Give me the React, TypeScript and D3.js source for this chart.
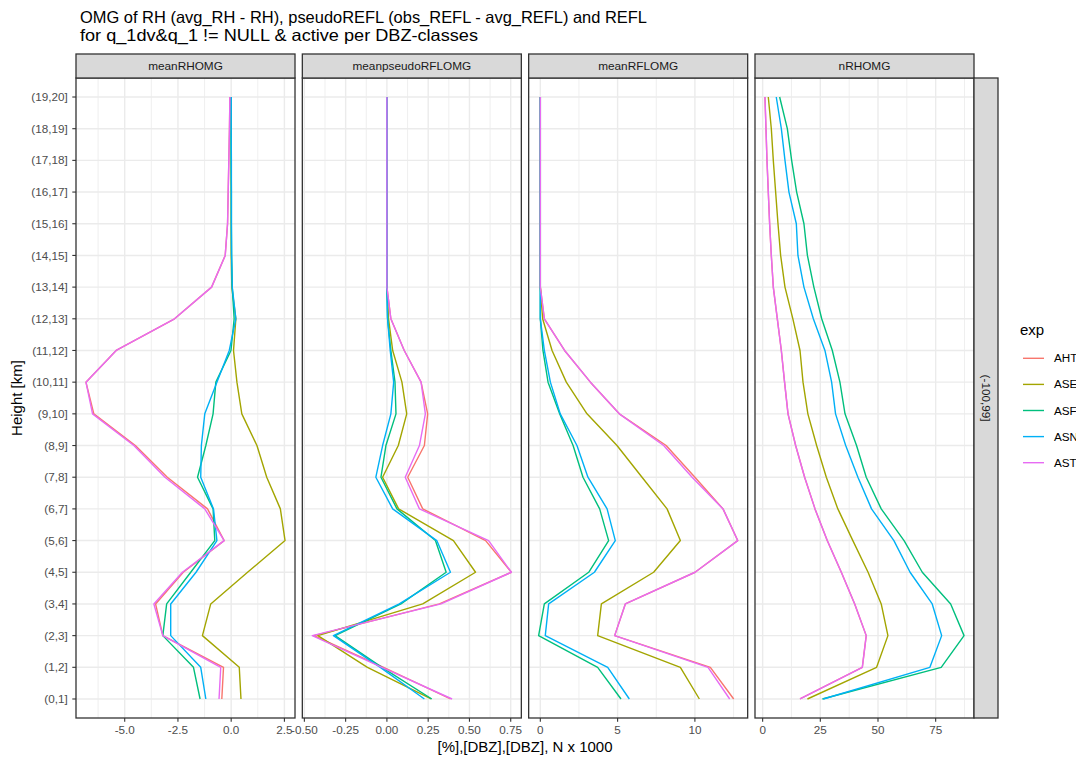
import React from "react";
import * as d3 from "d3";

// ---------------- DATA ----------------
const categories = [
  "(0,1]", "(1,2]", "(2,3]", "(3,4]", "(4,5]", "(5,6]", "(6,7]", "(7,8]", "(8,9]", "(9,10]",
  "(10,11]", "(11,12]", "(12,13]", "(13,14]", "(14,15]", "(15,16]", "(16,17]", "(17,18]", "(18,19]", "(19,20]",
];
const experiments = ["AHT", "ASE", "ASF", "ASN", "AST"];
const expColors = ["#F8766D", "#A3A500", "#00BF7D", "#00B0F6", "#E76BF3"];
const facetNames = ["meanRHOMG", "meanpseudoRFLOMG", "meanRFLOMG", "nRHOMG"];
const rowStripLabel = "(-100,99]";

// meanRHOMG
const rhAHT = [-0.44, -0.36, -3.21, -3.55, -2.25, -0.33, -1.11, -3.0, -4.5, -6.45, -6.82, -5.4, -2.66, -0.92, -0.28, -0.17, -0.14, -0.11, -0.08, -0.06];
const rhASE = [0.46, 0.38, -1.35, -0.96, 0.77, 2.53, 2.31, 1.67, 1.21, 0.5, 0.27, 0.11, 0.22, 0.03, 0.0, 0.0, 0.0, 0.0, 0.0, 0.0];
const rhASF = [-1.46, -1.77, -3.21, -3.03, -1.9, -0.77, -0.85, -1.58, -1.19, -0.85, -0.72, -0.01, 0.14, 0.05, 0.02, 0.01, 0.01, 0.0, 0.0, 0.0];
const rhASN = [-1.19, -1.43, -2.84, -2.84, -1.65, -0.67, -0.83, -1.43, -1.4, -1.24, -0.67, -0.09, 0.22, 0.05, 0.02, 0.01, 0.01, 0.01, 0.0, 0.0];
const rhAST = [-0.57, -0.49, -3.21, -3.63, -2.29, -0.33, -1.24, -3.11, -4.57, -6.51, -6.82, -5.4, -2.66, -0.92, -0.28, -0.17, -0.14, -0.11, -0.08, -0.06];

// meanpseudoRFLOMG
const psAHT = [0.385, -0.02, -0.442, 0.318, 0.754, 0.598, 0.217, 0.126, 0.227, 0.247, 0.207, 0.105, 0.024, 0, 0, 0, 0, 0, 0, 0];
const psASE = [0.268, -0.118, -0.418, 0.217, 0.537, 0.403, 0.071, -0.026, 0.069, 0.12, 0.091, 0.035, 0.01, 0, 0, 0, 0, 0, 0, 0];
const psASF = [0.272, -0.03, -0.314, 0.085, 0.359, 0.294, 0.061, -0.036, -0.006, 0.055, 0.049, 0.024, 0.004, 0, 0, 0, 0, 0, 0, 0];
const psASN = [0.227, -0.04, -0.324, 0.075, 0.385, 0.302, 0.035, -0.067, -0.026, 0.024, 0.041, 0.02, 0.004, 0, 0, 0, 0, 0, 0, 0];
const psAST = [0.395, -0.03, -0.452, 0.328, 0.754, 0.616, 0.197, 0.111, 0.197, 0.233, 0.207, 0.105, 0.024, 0, 0, 0, 0, 0, 0, 0];

// meanRFLOMG
const rfAHT = [12.51, 11.0, 4.81, 5.5, 10.01, 12.77, 11.82, 10.0, 8.14, 5.11, 3.24, 1.57, 0.26, 0, 0, 0, 0, 0, 0, 0];
const rfASE = [10.29, 9.06, 3.71, 3.95, 7.33, 9.06, 8.2, 6.58, 4.96, 3.02, 1.68, 0.76, 0.15, 0, 0, 0, 0, 0, 0, 0];
const rfASF = [5.22, 3.71, -0.11, 0.26, 3.13, 4.42, 3.84, 2.76, 2.12, 1.25, 0.5, 0.17, 0.0, 0, 0, 0, 0, 0, 0, 0];
const rfASN = [5.76, 4.36, 0.32, 0.54, 3.5, 4.85, 4.32, 3.08, 2.37, 1.29, 0.65, 0.26, 0.0, 0, 0, 0, 0, 0, 0, 0];
const rfAST = [12.25, 10.85, 4.81, 5.5, 10.01, 12.77, 11.82, 9.82, 7.98, 5.11, 3.24, 1.57, 0.26, 0, 0, 0, 0, 0, 0, 0];

// nRHOMG
const nAHT = [16.2, 43.2, 44.9, 39.9, 34.1, 28.0, 22.7, 18.2, 14.3, 11.0, 9.5, 8.1, 6.36, 4.62, 3.76, 3.03, 2.45, 1.88, 1.45, 1.0];
const nASE = [19.4, 49.4, 54.3, 51.4, 45.7, 39.1, 32.6, 27.6, 23.4, 19.6, 17.5, 16.2, 13.1, 9.68, 7.8, 6.65, 5.63, 4.62, 3.76, 2.45];
const nASF = [25.9, 77.4, 87.3, 81.5, 69.2, 61.3, 51.4, 44.9, 40.7, 35.7, 33.5, 30.2, 25.6, 22.2, 19.4, 17.9, 14.74, 12.57, 10.7, 7.37];
const nASN = [26.3, 72.5, 77.6, 73.5, 63.9, 56.9, 47.2, 41.3, 36.0, 31.6, 29.9, 27.0, 21.97, 17.9, 15.3, 14.6, 11.4, 9.68, 8.1, 5.9];
const nAST = [16.2, 43.2, 44.9, 39.9, 34.1, 28.0, 22.7, 18.2, 14.3, 11.0, 9.5, 8.1, 6.36, 4.62, 3.76, 3.03, 2.45, 1.88, 1.45, 1.0];

// x tick breaks and labels per facet
const rhTicks = [-5, -2.5, 0, 2.5];
const rhTickLabels = ["-5.0", "-2.5", "0.0", "2.5"];
const psTicks = [-0.5, -0.25, 0, 0.25, 0.5, 0.75];
const psTickLabels = ["-0.50", "-0.25", "0.00", "0.25", "0.50", "0.75"];
const rfTicks = [0, 5, 10];
const rfTickLabels = ["0", "5", "10"];
const nTicks = [0, 25, 50, 75];
const nTickLabels = ["0", "25", "50", "75"];

const titleLines = [
  "OMG of RH (avg_RH - RH), pseudoREFL (obs_REFL - avg_REFL) and REFL",
  "for q_1dv&q_1 != NULL & active per DBZ-classes",
];
const xAxisTitle = "[%],[DBZ],[DBZ], N x 1000";
const yAxisTitle = "Height [km]";
const legendTitle = "exp";

const facets = [
  { name: facetNames[0], series: [rhAHT, rhASE, rhASF, rhASN, rhAST], ticks: rhTicks, labels: rhTickLabels },
  { name: facetNames[1], series: [psAHT, psASE, psASF, psASN, psAST], ticks: psTicks, labels: psTickLabels },
  { name: facetNames[2], series: [rfAHT, rfASE, rfASF, rfASN, rfAST], ticks: rfTicks, labels: rfTickLabels },
  { name: facetNames[3], series: [nAHT, nASE, nASF, nASN, nAST], ticks: nTicks, labels: nTickLabels },
];

// ---------------- LAYOUT / STYLE ----------------
const W = 1076;
const H = 758;
const FONT = "'Liberation Sans', Arial, Helvetica, sans-serif";
const panelTop = 78;
const panelBottom = 718;
const stripH = 24;
const plotLeft = 76;
const plotRight = 974;
const gap = 7.33;
const panelW = (plotRight - plotLeft - 3 * gap) / 4;
const titleStyle = [
  { y: 23, len: 567 },
  { y: 41, len: 398 },
];

export default function App() {
  const y = d3.scalePoint<string>().domain(categories).range([panelBottom, panelTop]).padding(0.6);

  return (
    <svg
      width={W}
      height={H}
      style={{ position: "absolute", left: 0, top: 0, display: "block", background: "#fff" }}
      fontFamily={FONT}
    >
      <rect x={0} y={0} width={W} height={H} fill="#fff" />
      {/* title */}
      {titleLines.map((t, i) => (
        <text
          key={i}
          x={80}
          y={titleStyle[i].y}
          fontSize={16.5}
          fill="#000"
          textLength={titleStyle[i].len}
          lengthAdjust="spacingAndGlyphs"
        >
          {t}
        </text>
      ))}

      {facets.map((f, fi) => {
        const left = plotLeft + fi * (panelW + gap);
        const right = left + panelW;
        const all = f.series.flat();
        const mn = d3.min(all) as number;
        const mx = d3.max(all) as number;
        const r = mx - mn;
        const x = d3.scaleLinear().domain([mn - 0.05 * r, mx + 0.05 * r]).range([left, right]);
        const [d0, d1] = x.domain();
        const step = f.ticks[1] - f.ticks[0];
        const minor: number[] = [];
        const ext = [f.ticks[0] - step, ...f.ticks, f.ticks[f.ticks.length - 1] + step];
        for (let i = 0; i < ext.length - 1; i++) {
          const m = (ext[i] + ext[i + 1]) / 2;
          if (m >= d0 && m <= d1) minor.push(m);
        }
        const line = d3
          .line<number>()
          .x((v) => x(v))
          .y((_, i) => y(categories[i]) as number);
        return (
          <g key={f.name}>
            <rect x={left} y={panelTop} width={panelW} height={panelBottom - panelTop} fill="#fff" />
            {minor.map((m, i) => (
              <line key={"mi" + i} x1={x(m)} x2={x(m)} y1={panelTop} y2={panelBottom} stroke="#EBEBEB" strokeWidth={0.8} />
            ))}
            {categories.map((c) => (
              <line key={"hy" + c} x1={left} x2={right} y1={y(c)} y2={y(c)} stroke="#EBEBEB" strokeWidth={1.4} />
            ))}
            {f.ticks.map((t, i) =>
              t >= d0 && t <= d1 ? (
                <line key={"mj" + i} x1={x(t)} x2={x(t)} y1={panelTop} y2={panelBottom} stroke="#EBEBEB" strokeWidth={1.4} />
              ) : null
            )}
            {f.series.map((s, si) => (
              <path key={"s" + si} d={line(s) || ""} fill="none" stroke={expColors[si]} strokeWidth={1.4} strokeLinejoin="round" />
            ))}
            <rect x={left} y={panelTop} width={panelW} height={panelBottom - panelTop} fill="none" stroke="#333333" strokeWidth={1.3} />
            {/* strip */}
            <rect x={left} y={panelTop - stripH} width={panelW} height={stripH} fill="#D9D9D9" stroke="#333333" strokeWidth={1.3} />
            <text x={(left + right) / 2} y={panelTop - stripH / 2} dy="0.35em" textAnchor="middle" fontSize={11.8} fill="#1A1A1A">
              {f.name}
            </text>
            {/* x axis */}
            {f.ticks.map((t, i) => (
              <g key={"xt" + i}>
                <line x1={x(t)} x2={x(t)} y1={panelBottom} y2={panelBottom + 3.7} stroke="#333333" strokeWidth={1.1} />
                <text x={x(t)} y={panelBottom + 15.8} textAnchor="middle" fontSize={11.7} fill="#4D4D4D">
                  {f.labels[i]}
                </text>
              </g>
            ))}
          </g>
        );
      })}

      {/* y axis */}
      {categories.map((c) => (
        <g key={"yt" + c}>
          <line x1={plotLeft - 3.7} x2={plotLeft} y1={y(c)} y2={y(c)} stroke="#333333" strokeWidth={1.1} />
          <text x={plotLeft - 8.3} y={y(c)} dy="0.35em" textAnchor="end" fontSize={11.7} fill="#4D4D4D">
            {c}
          </text>
        </g>
      ))}

      {/* right strip */}
      <rect x={plotRight} y={panelTop} width={stripH} height={panelBottom - panelTop} fill="#D9D9D9" stroke="#333333" strokeWidth={1.3} />
      <text
        transform={`translate(${plotRight + stripH / 2},${(panelTop + panelBottom) / 2}) rotate(90)`}
        dy="0.35em"
        textAnchor="middle"
        fontSize={11.7}
        fill="#1A1A1A"
      >
        {rowStripLabel}
      </text>

      {/* axis titles */}
      <text x={(plotLeft + plotRight) / 2} y={752} textAnchor="middle" fontSize={15} fill="#000">
        {xAxisTitle}
      </text>
      <text
        transform={`translate(22,${(panelTop + panelBottom) / 2}) rotate(-90)`}
        textAnchor="middle"
        fontSize={15}
        fill="#000"
      >
        {yAxisTitle}
      </text>

      {/* legend */}
      <text x={1020} y={334.5} fontSize={15} fill="#000">
        {legendTitle}
      </text>
      {experiments.map((e, i) => {
        const ly = 358.3 + i * 26.1;
        return (
          <g key={e}>
            <line x1={1023} x2={1044} y1={ly} y2={ly} stroke={expColors[i]} strokeWidth={1.4} />
            <text x={1054} y={ly} dy="0.35em" fontSize={11.7} fill="#000">
              {e}
            </text>
          </g>
        );
      })}
    </svg>
  );
}
